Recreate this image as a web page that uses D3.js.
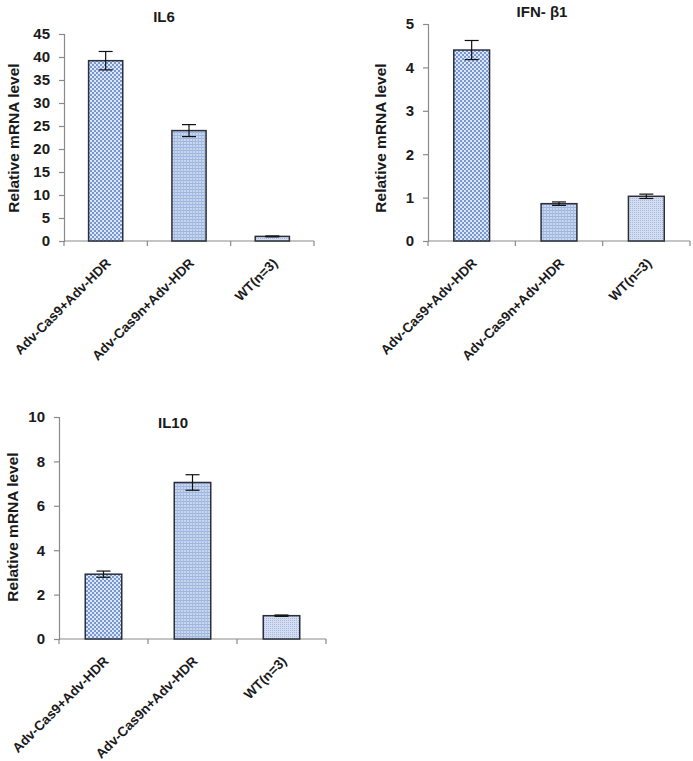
<!DOCTYPE html>
<html>
<head>
<meta charset="utf-8">
<script src="https://cdn.jsdelivr.net/npm/d3@7/dist/d3.min.js"></script>
<style>
  html, body { margin: 0; padding: 0; background: #fff; }
  svg { display: block; }
  text { font-family: "Liberation Sans", Arial, sans-serif; }
</style>
</head>
<body>
<svg id="chart" width="693" height="761"></svg>
<script>
// ---- data ----
const categories = ["Adv-Cas9+Adv-HDR", "Adv-Cas9n+Adv-HDR", "WT(n=3)"];

const il6Values = [39.2, 24.0, 1.0];
const il6Errors = [2.0, 1.3, 0.1];
const il6Ticks  = [0, 5, 10, 15, 20, 25, 30, 35, 40, 45];

const ifnValues = [4.40, 0.86, 1.03];
const ifnErrors = [0.22, 0.04, 0.05];
const ifnTicks  = [0, 1, 2, 3, 4, 5];

const il10Values = [2.92, 7.05, 1.05];
const il10Errors = [0.14, 0.35, 0.03];
const il10Ticks  = [0, 2, 4, 6, 8, 10];

const titles = ["IL6", "IFN- \u03b21", "IL10"];
const yTitle = "Relative mRNA level";

// ---- drawing ----
const svg = d3.select("#chart");
const defs = svg.append("defs");

// pattern 1: checkerboard
const p1 = defs.append("pattern").attr("id", "pat0").attr("patternUnits", "userSpaceOnUse")
  .attr("width", 4).attr("height", 4);
p1.append("rect").attr("width", 4).attr("height", 4).attr("fill", "#dde6f5");
p1.append("rect").attr("width", 2).attr("height", 2).attr("fill", "#7797d0");
p1.append("rect").attr("x", 2).attr("y", 2).attr("width", 2).attr("height", 2).attr("fill", "#7797d0");

// pattern 2: grid
const p2 = defs.append("pattern").attr("id", "pat1").attr("patternUnits", "userSpaceOnUse")
  .attr("width", 3).attr("height", 3);
p2.append("rect").attr("width", 3).attr("height", 3).attr("fill", "#c8d6ee");
p2.append("rect").attr("width", 3).attr("height", 1).attr("fill", "#9cb3dc");
p2.append("rect").attr("width", 1).attr("height", 3).attr("fill", "#a7bce2");

// pattern 3: fine dots
const p3 = defs.append("pattern").attr("id", "pat2").attr("patternUnits", "userSpaceOnUse")
  .attr("width", 2).attr("height", 2);
p3.append("rect").attr("width", 2).attr("height", 2).attr("fill", "#d4def0");
p3.append("rect").attr("width", 1).attr("height", 1).attr("fill", "#a5bae0");

const panels = [
  { values: il6Values,  errors: il6Errors,  ticks: il6Ticks,  title: titles[0],
    x0: 64,  x1: 314, y0: 241, y1: 34,  max: 45, titleX: 164, titleY: 22, yTitleX: 14,  yTitleY: 138 },
  { values: ifnValues,  errors: ifnErrors,  ticks: ifnTicks,  title: titles[1],
    x0: 428, x1: 690, y0: 241, y1: 24,  max: 5,  titleX: 542, titleY: 17, yTitleX: 381, yTitleY: 138 },
  { values: il10Values, errors: il10Errors, ticks: il10Ticks, title: titles[2],
    x0: 59,  x1: 326, y0: 639, y1: 417, max: 10, titleX: 173, titleY: 428, yTitleX: 13, yTitleY: 527 }
];

const axisColor = "#8a8a8a";

panels.forEach(p => {
  const g = svg.append("g");
  const x = d3.scaleBand().domain(categories).range([p.x0, p.x1])
    .paddingInner(0.59).paddingOuter(0.295);
  const y = d3.scaleLinear().domain([0, p.max]).range([p.y0, p.y1]);

  // y axis
  const ya = g.append("g").attr("transform", `translate(${p.x0},0)`)
    .call(d3.axisLeft(y).tickValues(p.ticks).tickSize(5).tickPadding(9).tickFormat(d3.format("d")));
  ya.select(".domain").attr("stroke", axisColor).attr("stroke-width", 1.2);
  ya.selectAll(".tick line").attr("stroke", axisColor).attr("stroke-width", 1.2);
  ya.selectAll(".tick text").attr("font-size", 15).attr("font-weight", "bold")
    .attr("fill", "#1a1a1a").attr("font-family", "Liberation Sans, Arial, sans-serif");

  // x axis (line + boundary ticks)
  const step = x.step();
  const bounds = d3.range(categories.length + 1).map(i => p.x0 + i * step);
  g.append("line").attr("x1", p.x0).attr("x2", p.x1).attr("y1", p.y0).attr("y2", p.y0)
    .attr("stroke", axisColor).attr("stroke-width", 1.2);
  g.selectAll(".xb").data(bounds).enter().append("line")
    .attr("x1", d => d).attr("x2", d => d).attr("y1", p.y0).attr("y2", p.y0 + 5)
    .attr("stroke", axisColor).attr("stroke-width", 1.2);

  // bars
  g.selectAll(".bar").data(p.values).enter().append("rect")
    .attr("x", (d, i) => x(categories[i]))
    .attr("y", d => y(d))
    .attr("width", x.bandwidth())
    .attr("height", d => y(0) - y(d))
    .attr("fill", (d, i) => `url(#pat${i})`)
    .attr("stroke", "#2a2f3b").attr("stroke-width", 1.5);

  // error bars
  const cap = 7;
  p.values.forEach((v, i) => {
    const cx = x(categories[i]) + x.bandwidth() / 2;
    const e = p.errors[i];
    const eg = g.append("g").attr("stroke", "#111").attr("stroke-width", 1.2);
    eg.append("line").attr("x1", cx).attr("x2", cx).attr("y1", y(v - e)).attr("y2", y(v + e));
    eg.append("line").attr("x1", cx - cap).attr("x2", cx + cap).attr("y1", y(v + e)).attr("y2", y(v + e));
    eg.append("line").attr("x1", cx - cap).attr("x2", cx + cap).attr("y1", y(v - e)).attr("y2", y(v - e));
  });

  // category labels
  g.selectAll(".xl").data(categories).enter().append("text")
    .attr("transform", d => `translate(${x(d) + x.bandwidth() / 2 + 6},${p.y0 + 23}) rotate(-45)`)
    .attr("text-anchor", "end")
    .attr("font-size", 13.5).attr("font-weight", "bold").attr("fill", "#1a1a1a")
    .text(d => d);

  // title
  g.append("text").attr("x", p.titleX).attr("y", p.titleY).attr("text-anchor", "middle")
    .attr("font-size", 15).attr("font-weight", "bold").attr("fill", "#1a1a1a").text(p.title);

  // y title
  g.append("text").attr("transform", `translate(${p.yTitleX + 5},${p.yTitleY}) rotate(-90)`)
    .attr("text-anchor", "middle")
    .attr("font-size", 15.5).attr("font-weight", "bold").attr("fill", "#1a1a1a").text(yTitle);
});
</script>
</body>
</html>
